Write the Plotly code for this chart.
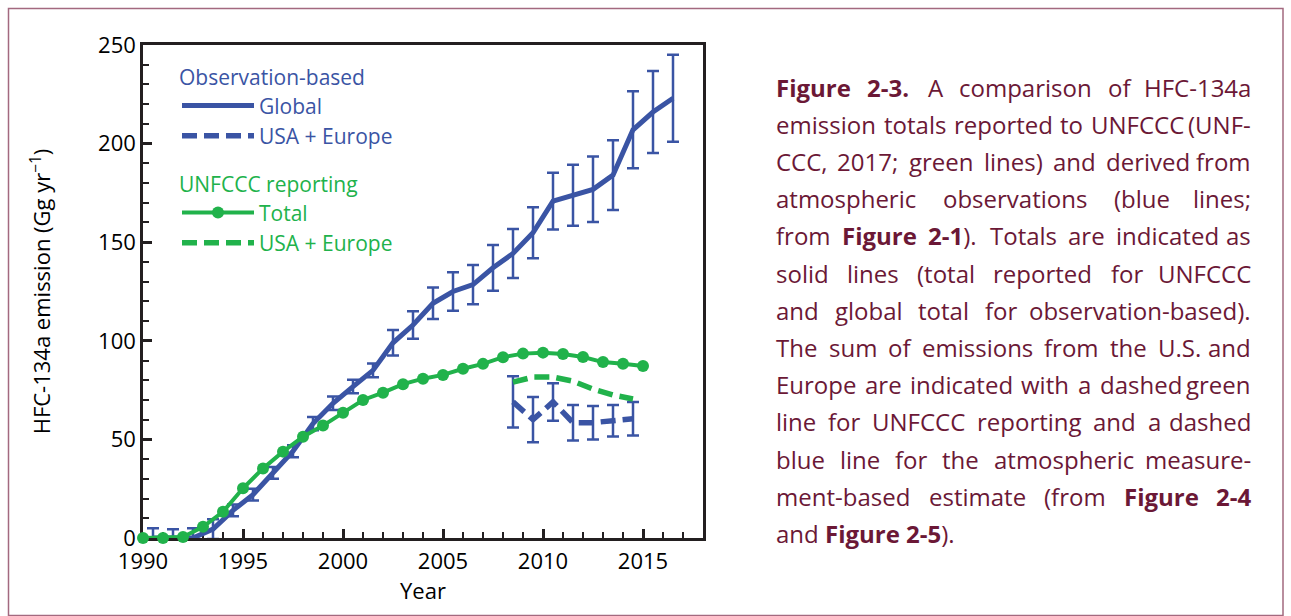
import re
import plotly.graph_objects as go

# ---------------- data ----------------
global_years = [1990.5, 1991.5, 1992.5, 1993.5, 1994.5, 1995.5, 1996.5, 1997.5, 1998.5,
                1999.5, 2000.5, 2001.5, 2002.5, 2003.5, 2004.5, 2005.5, 2006.5, 2007.5,
                2008.5, 2009.5, 2010.5, 2011.5, 2012.5, 2013.5, 2014.5, 2015.5, 2016.5]
global_emis = [0, 0, 0, 4.5, 14, 22, 33, 44, 58, 68.3, 76.8, 85, 99, 108, 119, 125, 128.5,
               137, 144.3, 154.8, 170.8, 173.8, 176.8, 184, 207, 216, 223]
global_err = [5, 4.5, 5, 5, 3, 3, 3, 3, 3.4, 3.4, 3.4, 3.5, 6.5, 7, 8, 9.7, 10, 11.6, 12.4,
              12.9, 14.4, 15.5, 16.6, 17.7, 19.5, 20.8, 22]

obs_useu_years = [2008.5, 2009.5, 2010.5, 2011.5, 2012.5, 2013.5, 2014.5]
obs_useu_emis = [69, 60, 69, 58.5, 58.5, 59.5, 60.5]
obs_useu_err = [13, 11.5, 9.5, 9, 8.5, 8, 8.5]

unfccc_years = [1990, 1991, 1992, 1993, 1994, 1995, 1996, 1997, 1998, 1999, 2000, 2001, 2002,
                2003, 2004, 2005, 2006, 2007, 2008, 2009, 2010, 2011, 2012, 2013, 2014, 2015]
unfccc_total = [0, 0, 0.5, 5.7, 13.3, 25.2, 35.3, 43.8, 51.4, 57, 63.5, 70, 73.7, 78, 80.8,
                82.7, 85.8, 88.3, 91.7, 93.5, 94, 93.3, 91.8, 89.2, 88.4, 87.2]

unfccc_useu_years = [2008.5, 2009.5, 2010.5, 2011.5, 2012.5, 2013.5, 2014.5]
unfccc_useu = [79, 81.6, 81.6, 79.5, 75.5, 72.5, 70.5]

x_tick_vals = [1990, 1995, 2000, 2005, 2010, 2015]
y_tick_vals = [0, 50, 100, 150, 200, 250]

caption_lines = [
    "<b>Figure</b> <b>2-3.</b> A comparison of HFC-134a",
    "emission totals reported to UNFCCC (UNF-",
    "CCC, 2017; green lines) and derived from",
    "atmospheric observations (blue lines;",
    "from <b>Figure</b> <b>2-1</b>). Totals are indicated as",
    "solid lines (total reported for UNFCCC",
    "and global total for observation-based).",
    "The sum of emissions from the U.S. and",
    "Europe are indicated with a dashed green",
    "line for UNFCCC reporting and a dashed",
    "blue line for the atmospheric measure-",
    "ment-based estimate (from <b>Figure</b> <b>2-4</b>",
    "and <b>Figure</b> <b>2-5</b>).",
]

# ---------------- styling ----------------
BLUE = "#3A54A4"
GREEN = "#21B24B"
MAROON = "#6B1836"
AXIS = "#231F20"
FONT = "Open Sans"

W, H = 1291, 616
L, T = 143, 45
R = W - 703
B = H - 538
PW, PH = W - L - R, H - T - B


def px_x(px):
    return (px - L) / PW


def px_y(py):
    return (H - B - py) / PH


# approximate advance widths (em) for Open Sans, used to justify caption lines
CW = {" ": .26, "a": .556, "b": .613, "c": .476, "d": .613, "e": .561, "f": .339, "g": .548,
      "h": .614, "i": .253, "j": .253, "k": .525, "l": .253, "m": .93, "n": .614, "o": .604,
      "p": .613, "q": .613, "r": .408, "s": .477, "t": .353, "u": .614, "v": .501, "w": .778,
      "x": .524, "y": .501, "z": .446, "A": .633, "C": .631, "E": .556, "F": .516, "G": .728,
      "H": .738, "N": .756, "S": .556, "T": .56, "U": .734, "(": .291, ")": .291, "-": .322,
      ".": .266, ",": .244, ";": .266, "+": .572}


def word_width(tok, size):
    w = 0.0
    for part in re.split(r"(<b>.*?</b>)", tok):
        if not part:
            continue
        bold = part.startswith("<b>")
        txt = re.sub(r"</?b>", "", part)
        f = 1.07 if bold else 1.0
        for ch in txt:
            w += CW.get(ch, .572) * f
    return w * size


fig = go.Figure()

fig.add_trace(go.Scatter(
    x=global_years, y=global_emis, mode="lines", name="Global",
    line=dict(color=BLUE, width=5),
    error_y=dict(type="data", array=global_err, color=BLUE, thickness=2.5, width=6),
    legend="legend", cliponaxis=False))

fig.add_trace(go.Scatter(
    x=obs_useu_years, y=obs_useu_emis, mode="lines", name="USA + Europe",
    line=dict(color=BLUE, width=5.5, dash="15px,7px"),
    error_y=dict(type="data", array=obs_useu_err, color=BLUE, thickness=2.5, width=6),
    legend="legend", cliponaxis=False))

fig.add_trace(go.Scatter(
    x=unfccc_years, y=unfccc_total, mode="lines+markers", name="Total",
    line=dict(color=GREEN, width=4), marker=dict(size=12, color=GREEN),
    legend="legend2", cliponaxis=False))

fig.add_trace(go.Scatter(
    x=unfccc_useu_years, y=unfccc_useu, mode="lines", name="USA + Europe",
    line=dict(color=GREEN, width=5.5, dash="15px,7px"),
    legend="legend2", cliponaxis=False))

# caption, justified word by word
annotations = []
CAP_SIZE = 24
CAP_L, CAP_R = 774, 1253
CAP_Y0, CAP_DY = 87, 37.2
for i, line in enumerate(caption_lines):
    words = line.split(" ")
    widths = [word_width(w, CAP_SIZE) for w in words]
    yc = CAP_Y0 + i * CAP_DY
    last = i == len(caption_lines) - 1
    if last or len(words) == 1:
        gap = CW[" "] * CAP_SIZE
    else:
        gap = max((CAP_R - CAP_L - sum(widths)) / (len(words) - 1), 3)
    xpos = CAP_L
    for j, (wd, ww) in enumerate(zip(words, widths)):
        right_end = (not last) and j == len(words) - 1 and len(words) > 1
        annotations.append(dict(
            x=px_x(CAP_R if right_end else xpos), y=px_y(yc), xref="paper", yref="paper",
            text=wd, showarrow=False, xanchor="right" if right_end else "left",
            yanchor="middle", font=dict(family=FONT, size=CAP_SIZE, color=MAROON)))
        xpos += ww + gap

fig.update_layout(
    width=W, height=H, autosize=False,
    margin=dict(l=L, r=R, t=T, b=B),
    paper_bgcolor="white", plot_bgcolor="white",
    font=dict(family=FONT, size=22, color="black"),
    showlegend=True,
    legend=dict(x=px_x(177), y=px_y(58), xanchor="left", yanchor="top",
                bgcolor="rgba(0,0,0,0)", itemwidth=72, tracegroupgap=0,
                font=dict(family=FONT, size=21, color=BLUE),
                title=dict(text="Observation-based", font=dict(family=FONT, size=21, color=BLUE))),
    legend2=dict(x=px_x(177), y=px_y(165), xanchor="left", yanchor="top",
                 bgcolor="rgba(0,0,0,0)", itemwidth=72, tracegroupgap=0,
                 font=dict(family=FONT, size=21, color=GREEN),
                 title=dict(text="UNFCCC reporting", font=dict(family=FONT, size=21, color=GREEN))),
    xaxis=dict(range=[1990, 2018], tickvals=x_tick_vals, ticks="inside", ticklen=9, tickwidth=2.5,
               tickcolor=AXIS, showline=True, linewidth=2.5, linecolor=AXIS, mirror=True,
               showgrid=False, zeroline=False, layer="below traces", ticklabelstandoff=2,
               minor=dict(dtick=1, tick0=1990, ticks="inside", ticklen=6, tickwidth=2, tickcolor=AXIS),
               tickfont=dict(family=FONT, size=22, color="black"),
               title=dict(text="Year", font=dict(family=FONT, size=22, color="black"), standoff=10)),
    yaxis=dict(range=[0, 250], tickvals=y_tick_vals, ticks="inside", ticklen=9, tickwidth=2.5,
               tickcolor=AXIS, showline=True, linewidth=2.5, linecolor=AXIS, mirror=True,
               showgrid=False, zeroline=False, layer="below traces",
               minor=dict(dtick=10, tick0=0, ticks="inside", ticklen=6, tickwidth=2, tickcolor=AXIS),
               tickfont=dict(family=FONT, size=22, color="black"),
               title=dict(text="HFC-134a emission (Gg yr<sup>\u22121</sup>)",
                          font=dict(family=FONT, size=22, color="black"), standoff=42)),
    annotations=annotations,
    shapes=[dict(type="rect", xref="paper", yref="paper", x0=px_x(8.5), x1=px_x(1283),
                 y0=px_y(615.5), y1=px_y(8.5), line=dict(color="#A3697F", width=1.5),
                 fillcolor="rgba(0,0,0,0)", layer="below")],
)

PAGE_JS = ("var s=document.createElement('style');"
           "s.textContent='html,body{margin:0;padding:0;overflow:hidden;width:1291px;height:616px;}';"
           "document.head.appendChild(s);")

fig.write_html("out.html", config={"displayModeBar": False}, post_script=PAGE_JS)
